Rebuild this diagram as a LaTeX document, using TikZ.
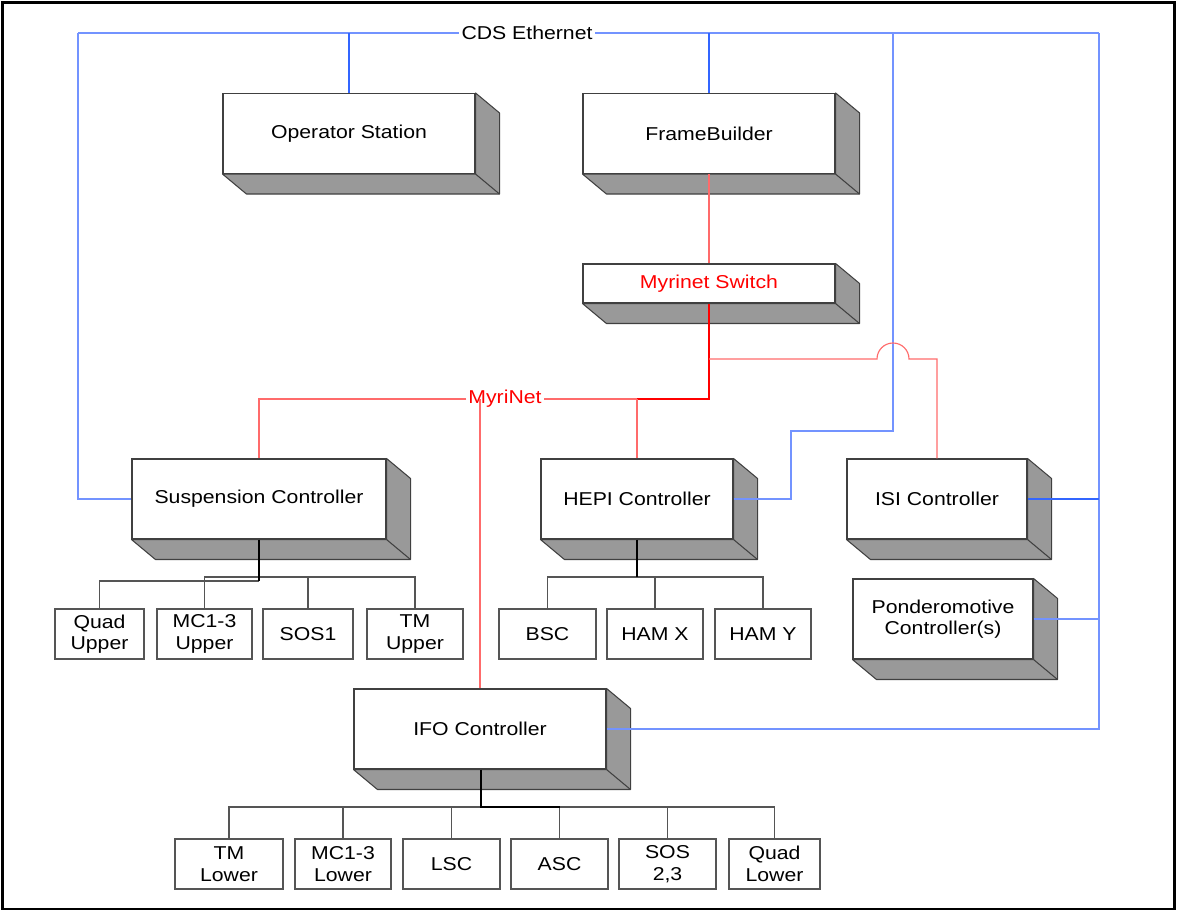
\documentclass[tikz,border=0pt]{standalone}
\usepackage{fontspec}
\setmainfont{Liberation Sans}[FakeStretch=1.14]
\usepackage{tikz}
\usetikzlibrary{calc}
\definecolor{EtherBlue}{HTML}{3366FF}
\definecolor{EtherLight}{HTML}{7393FF}
\definecolor{MyriRed}{HTML}{FF0000}
\definecolor{MyriLight}{HTML}{FF6B6B}
\definecolor{Shade}{HTML}{999999}
\definecolor{BoxEdge}{HTML}{404040}
\definecolor{WireGray}{HTML}{555555}

% gray right and bottom faces of a unit
\newcommand{\unitdepth}[1]{%
  \path[depthface] (#1.north east) -- ++(24,20) -- ($(#1.south east)+(24,20)$)
    -- ($(#1.south west)+(24,20)$) -- (#1.south west) -- (#1.south east) -- cycle;
  \draw[depthface] (#1.south east) -- ++(24,20);}

\begin{document}
\begin{tikzpicture}[x=0.02cm, y=-0.02cm,
    font=\fontsize{10.6}{12.3}\selectfont,
    unit/.style={draw=BoxEdge, fill=white, line width=0.6pt, inner sep=0pt, align=center,
      minimum width=252*0.02cm, minimum height=80*0.02cm},
    leaf/.style={draw=WireGray, fill=white, line width=0.6pt, inner sep=0pt, align=center,
      minimum height=50*0.02cm},
    depthface/.style={fill=Shade, draw=BoxEdge, line width=0.6pt, line join=round},
    ether/.style={draw=EtherLight, line width=0.65pt},
    etherbold/.style={draw=EtherBlue, line width=1.1pt},
    myri/.style={draw=MyriLight, line width=0.65pt},
    myribold/.style={draw=MyriRed, line width=1.1pt},
    trunk/.style={draw=black, line width=1.1pt},
    wire/.style={draw=WireGray, line width=0.6pt}]
  \useasboundingbox (0,0) rectangle (1177,911);
  \draw[line width=1.4pt] (2.5,2.5) rectangle (1174.5,909);

  % Top row
  \node[unit] (op) at (349,133.5) {Operator Station};
  \unitdepth{op}
  \node[unit] (fb) at (709,133.5) {FrameBuilder};
  \unitdepth{fb}
  \node[unit, minimum height=39*0.02cm, text=MyriRed] (sw) at (709,283.5) {Myrinet Switch};
  \unitdepth{sw}

  % Controllers
  \node[unit, minimum width=254*0.02cm] (susp) at (259,499) {Suspension Controller};
  \unitdepth{susp}
  \node[unit, minimum width=192*0.02cm] (hepi) at (637,499) {HEPI Controller};
  \unitdepth{hepi}
  \node[unit, minimum width=180*0.02cm] (isi) at (937,499) {ISI Controller};
  \unitdepth{isi}
  \node[unit, minimum width=180*0.02cm] (pond) at (943,619) {Ponderomotive\\Controller(s)};
  \unitdepth{pond}
  \node[unit] (ifo) at (480,729) {IFO Controller};
  \unitdepth{ifo}

  % Suspension leaves
  \node[leaf, minimum width=89*0.02cm] (qu) at (99.5,634) {Quad\\Upper};
  \node[leaf, minimum width=95*0.02cm] (mu) at (204.5,634) {MC1-3\\Upper};
  \node[leaf, minimum width=90*0.02cm] (s1) at (308,634) {SOS1};
  \node[leaf, minimum width=96*0.02cm] (tu) at (415,634) {TM\\Upper};

  % HEPI leaves
  \node[leaf, minimum width=97*0.02cm] (bsc) at (547.5,634) {BSC};
  \node[leaf, minimum width=96*0.02cm] (hx) at (655,634) {HAM X};
  \node[leaf, minimum width=96*0.02cm] (hy) at (763,634) {HAM Y};

  % IFO leaves
  \node[leaf, minimum width=108*0.02cm] (tl) at (229,864) {TM\\Lower};
  \node[leaf, minimum width=96*0.02cm] (ml) at (343,864) {MC1-3\\Lower};
  \node[leaf, minimum width=97*0.02cm] (lsc) at (451.5,864) {LSC};
  \node[leaf, minimum width=97*0.02cm] (asc) at (559.5,864) {ASC};
  \node[leaf, minimum width=97*0.02cm] (s23) at (667.5,864) {SOS\\2,3};
  \node[leaf, minimum width=91*0.02cm] (ql) at (774.5,864) {Quad\\Lower};

  % CDS Ethernet
  \coordinate (ethL) at (78,33);
  \coordinate (ethR) at (1099,33);
  \coordinate (hjog) at (791,431);
  \coordinate (htap) at (893,33);
  \node[inner sep=1.5pt] (eth) at (527,33) {CDS Ethernet};
  \draw[ether] (ethL) -- (eth.west);
  \draw[ether] (eth.east) -- (ethR);
  \draw[ether] (ethL) |- (susp.west);
  \draw[etherbold] (op.north) -- (op.north |- ethL);
  \draw[etherbold] (fb.north) -- (fb.north |- ethL);
  \draw[ether] (hepi.east) -| (hjog) -| (htap);
  \draw[ether] (ethR) |- (ifo.east);
  \draw[etherbold] (isi.east) -- (isi.east -| ethR);
  \draw[ether] (pond.east) -- (pond.east -| ethR);

  % MyriNet
  \coordinate (mL) at (259,399);
  \coordinate (mR) at (709,399);
  \coordinate (mBr) at (709,359);
  \node[inner sep=1pt, text=MyriRed] (myr) at (505,399) {MyriNet};
  \draw[myri] (fb.south) -- (sw.north);
  \draw[myribold] (sw.south) -- (mR) -- (hepi.north |- mR);
  \draw[myri] (hepi.north |- mR) -- (myr.east);
  \draw[myri] (myr.west) -- (mL) -- (susp.north);
  \draw[myri] (hepi.north) -- (hepi.north |- mR);
  \draw[myri] (ifo.north) -- (ifo.north |- mR);
  \draw[myri] (mBr) -- ($(htap |- mBr)+(-16,0)$) arc[start angle=180, end angle=0, radius=0.32cm]
    -- (isi.north |- mBr) -- (isi.north);

  % Suspension bus
  \coordinate (sbus) at (259,581);
  \coordinate (sbus2) at (415,577);
  \draw[wire] (sbus) -| (qu.north);
  \draw[wire] (mu.north) |- (sbus2) -- (tu.north);
  \draw[wire] (s1.north) -- (s1.north |- sbus2);
  \draw[trunk] (susp.south) -- (sbus);

  % HEPI bus
  \coordinate (hbus) at (637,577);
  \draw[wire] (bsc.north) |- (hy.north |- hbus) -- (hy.north);
  \draw[wire] (hx.north) -- (hx.north |- hbus);
  \draw[trunk] (hepi.south) -- (hbus);

  % IFO bus
  \coordinate (ibus) at (481,807);
  \draw[wire] (tl.north) |- (ql.north |- ibus) -- (ql.north);
  \draw[wire] (ml.north) -- (ml.north |- ibus);
  \draw[wire] (lsc.north) -- (lsc.north |- ibus);
  \draw[wire] (asc.north) -- (asc.north |- ibus);
  \draw[wire] (s23.north) -- (s23.north |- ibus);
  \draw[trunk] (ifo.south -| ibus) -- (ibus) -- (asc.north |- ibus);
\end{tikzpicture}
\end{document}
